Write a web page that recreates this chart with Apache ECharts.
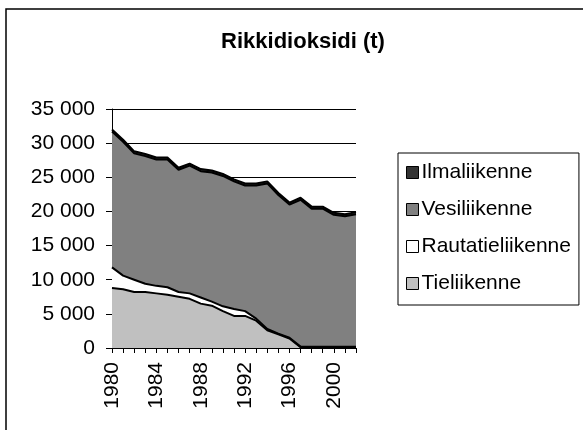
<!DOCTYPE html>
<html><head><meta charset="utf-8">
<script src="https://cdn.jsdelivr.net/npm/echarts@6/dist/echarts.min.js"></script>
<style>html,body{margin:0;padding:0;background:#fff}#c{width:583px;height:430px}</style>
</head><body><div id="c"></div>
<script>
var years = ['1980','1981','1982','1983','1984','1985','1986','1987','1988','1989','1990','1991','1992','1993','1994','1995','1996','1997','1998','1999','2000','2001','2002'];
var tieliikenne = [8800,8600,8200,8200,8000,7800,7500,7200,6500,6200,5400,4700,4700,4000,2600,2000,1400,100,100,100,100,100,100];
var rautatieliikenne = [3000,2000,1800,1200,1100,1100,700,800,900,600,700,1000,700,300,200,100,100,100,100,100,100,100,100];
var vesiliikenne = [19900,19600,18500,18700,18500,18700,17900,18700,18500,18900,19100,18700,18400,19500,21300,20300,19500,21500,20200,20200,19300,19100,19400];
var ilmaliikenne = [300,300,300,300,300,300,300,300,300,300,300,300,300,300,300,300,300,300,300,300,300,300,300];
var yTicks = [0,5000,10000,15000,20000,25000,30000,35000];

var FONT = 'Liberation Sans, Arial, sans-serif';
function fmt(v){ return String(v).replace(/\B(?=(\d{3})+(?!\d))/g, ' '); }
function areaSeries(name, data, color){
  return {name:name, type:'line', stack:'total', data:data, showSymbol:false, symbol:'none',
    lineStyle:{color:'#000', width:2}, areaStyle:{color:color, opacity:1},
    itemStyle:{color:color}, emphasis:{disabled:true}, silent:true};
}
var chart = echarts.init(document.getElementById('c'), null, {renderer:'canvas'});
chart.setOption({
  animation:false,
  backgroundColor:'#fff',
  graphic:[{type:'rect', shape:{x:6, y:9, width:620, height:460}, style:{fill:'none', stroke:'#000', lineWidth:1.5}, z:-1}],
  title:{text:'Rikkidioksidi (t)', left:298, top:26, textAlign:'center',
    textStyle:{fontFamily:FONT, fontWeight:'bold', fontSize:22, color:'#000'}},
  legend:{orient:'vertical', left:398, top:153, itemWidth:12, itemHeight:12, itemGap:16,
    padding:[9,8,11,8], borderColor:'#000', borderWidth:1, icon:'rect',
    itemStyle:{borderColor:'#000', borderWidth:1},
    textStyle:{fontFamily:FONT, fontSize:21, color:'#000', lineHeight:21, padding:[0,0,0,-2]},
    data:[
      {name:'Ilmaliikenne', itemStyle:{color:'#333333'}},
      {name:'Vesiliikenne', itemStyle:{color:'#808080'}},
      {name:'Rautatieliikenne', itemStyle:{color:'#ffffff'}},
      {name:'Tieliikenne', itemStyle:{color:'#c0c0c0'}}
    ]},
  grid:{left:112, right:227, top:109, bottom:82},
  xAxis:{type:'category', data:years, boundaryGap:false,
    axisLine:{lineStyle:{color:'#000', width:1}},
    axisTick:{show:true, length:5, interval:0, lineStyle:{color:'#000'}},
    axisLabel:{interval:3, rotate:90, margin:14, fontFamily:FONT, fontSize:21, color:'#000'},
    splitLine:{show:false}},
  yAxis:{type:'value', min:0, max:35000, interval:5000,
    axisLine:{show:true, lineStyle:{color:'#000', width:1}},
    axisTick:{show:true, length:6, lineStyle:{color:'#000'}},
    axisLabel:{margin:17, fontFamily:FONT, fontSize:21, color:'#000', formatter:function(v){return fmt(v);}},
    splitLine:{show:true, lineStyle:{color:'#000', width:1}}},
  series:[
    areaSeries('Tieliikenne', tieliikenne, '#c0c0c0'),
    areaSeries('Rautatieliikenne', rautatieliikenne, '#ffffff'),
    areaSeries('Vesiliikenne', vesiliikenne, '#808080'),
    areaSeries('Ilmaliikenne', ilmaliikenne, '#333333')
  ]
});
</script></body></html>
